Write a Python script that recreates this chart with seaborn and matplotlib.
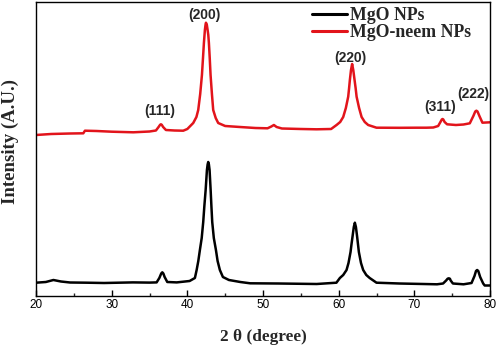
import matplotlib
matplotlib.use("Agg")
import matplotlib.pyplot as plt
from matplotlib.ticker import MultipleLocator
import seaborn as sns
import pandas as pd

# Values (arbitrary intensity units)
mgo_x = [20, 21.3, 22.3, 23.3, 24.5, 26.7, 29, 32.8, 35.0, 35.94, 36.3, 36.55, 36.69, 36.83,
         37.0, 37.35, 38.6, 40.3, 41.0, 41.23, 41.45, 41.66, 41.9, 42.1, 42.25, 42.42, 42.59,
         42.68, 42.76, 42.85, 42.94, 43.08, 43.18, 43.29, 43.5, 43.78, 44.0, 44.3, 44.7, 45.5,
         47, 48.3, 52, 57.1, 59.7, 60.16, 60.6, 61.04, 61.3, 61.57, 61.7, 61.83, 62.0, 62.14,
         62.28, 62.44, 62.55, 62.67, 62.95, 63.24, 63.65, 64.1, 65, 68, 71.2, 73.0, 73.8,
         74.2, 74.4, 74.55, 74.7, 74.8, 75.1, 76.5, 77.56, 77.95, 78.15, 78.3, 78.45, 78.7,
         79.1, 79.3, 80]
mgo_y = [13.3, 14, 16, 14.5, 13.5, 13.3, 13, 13.6, 13.4, 13.6, 18, 22.5, 23.7, 22.5,
         19, 14, 13.6, 15, 18, 26, 35, 46, 58, 74, 90, 106, 126,
         131.5, 134, 131.5, 126, 106, 90, 74, 58, 46, 35, 26, 19, 16,
         14, 12.7, 12.5, 12, 13.3, 18, 21, 26, 33, 44, 52, 59.3, 69, 73.3,
         69, 59.3, 52, 44, 33, 26, 21, 18, 13.3, 12.5, 12, 11.7, 12.5,
         15.5, 17.3, 17.7, 17.3, 15.5, 12.5, 11.7, 13, 20, 25, 26, 25, 19,
         12.5, 10.5, 10.5]

neem_x = [20, 22, 24.5, 26.25, 26.47, 28, 30, 32.86, 35, 35.85, 36.2, 36.4, 36.51, 36.62,
          36.8, 37.17, 38.3, 39.46, 40.0, 40.78, 41.2, 41.44, 41.7, 41.93, 42.07, 42.19, 42.32,
          42.4, 42.46, 42.57, 42.68, 42.77, 42.85, 42.96, 43.07, 43.25, 43.42, 43.75, 44.08,
          45, 46.95, 49, 50.6, 51.1, 51.44, 51.8, 52.5, 55, 57.08, 59, 59.72, 60.2, 60.6,
          60.95, 61.26, 61.38, 61.48, 61.63, 61.78, 61.93, 62.1, 62.24, 62.37, 62.7, 63.03,
          63.45, 63.9, 65, 68, 70.3, 71.6, 72.5, 73.15, 73.45, 73.63, 73.73, 73.83, 74.0,
          74.33, 75.5, 76.5, 77.33, 77.8, 78.05, 78.2, 78.35, 78.6, 79.0, 79.5, 80]
neem_y = [161, 162, 162.5, 162.7, 165.3, 165, 164.3, 163.7, 164.5, 165.5, 169, 171.2, 171.7,
          171.2, 169, 166, 165.5, 165.3, 167, 173, 179, 186, 202, 221, 238, 253, 266,
          271, 273.3, 271.5, 266, 261, 253, 238, 221, 202, 186, 178, 173,
          170, 169, 168, 167.7, 169.5, 171, 169, 167.5, 167, 166.7, 167, 171, 174, 179,
          188, 199.3, 208, 216, 226, 232, 226, 216, 208, 199.3, 188, 179,
          174, 171, 168.3, 168.2, 168.3, 168.3, 168.5, 170, 174, 176.5, 177, 176.5, 174,
          171.7, 171, 171.5, 172.7, 180, 184.5, 185.3, 184.5, 180, 173.3, 173.5, 173.7]

labels = ["MgO NPs", "MgO-neem NPs"]
peak_labels = ["(111)", "(200)", "(220)", "(311)", "(222)"]
peak_label_x = [36.34, 42.2, 61.6, 73.35, 77.85]
peak_label_y = [185, 281, 238, 189, 202]

df = pd.concat([
    pd.DataFrame({"two_theta": mgo_x, "intensity": mgo_y, "sample": labels[0]}),
    pd.DataFrame({"two_theta": neem_x, "intensity": neem_y, "sample": labels[1]}),
])

sns.set_style("ticks")
plt.rcParams["font.family"] = ["Liberation Sans", "DejaVu Sans"]

fig = plt.figure(figsize=(4.98, 3.48), dpi=100)
ax = fig.add_axes([36 / 498, 1 - 296 / 348, 454 / 498, 294 / 348])

sns.lineplot(data=df, x="two_theta", y="intensity", hue="sample", sort=False,
             palette={labels[0]: "black", labels[1]: "#e2141b"}, linewidth=1.8, ax=ax)
for ln in ax.get_lines():
    ln.set_solid_joinstyle("round")

ax.set_xlim(20, 80)
ax.set_ylim(0, 294)
ax.set_yticks([])
ax.xaxis.set_major_locator(MultipleLocator(10))
ax.xaxis.set_minor_locator(MultipleLocator(5))
ax.tick_params(axis="x", which="major", direction="in", length=4, width=1, labelsize=8.5,
               colors="black", pad=2.5)
ax.tick_params(axis="x", which="minor", direction="in", length=2.5, width=1)
for s in ax.spines.values():
    s.set_linewidth(1.0)
    s.set_color("black")

for t, x, y in zip(peak_labels, peak_label_x, peak_label_y):
    ax.text(x, y, t, ha="center", va="center", fontsize=10, fontweight="bold",
            family="Liberation Sans")

ax.set_xlabel("2 θ (degree)", fontsize=12.4, fontweight="bold", family="Liberation Serif")
ax.xaxis.set_label_coords(0.5, -(337 - 296) / 294, transform=ax.transAxes)
ax.xaxis.label.set_va("center")
ax.set_ylabel("Intensity (A.U.)", fontsize=13.5, fontweight="bold", family="Liberation Serif")
ax.yaxis.set_label_coords((10 - 36) / 454, (296 - 142) / 294, transform=ax.transAxes)
ax.yaxis.label.set_va("center")

leg = ax.legend(loc="upper left", bbox_to_anchor=((312 - 36) / 454, (296 - 7) / 294),
                frameon=False, borderaxespad=0, borderpad=0,
                prop={"family": "Liberation Serif", "weight": "bold", "size": 12.8},
                handlelength=1.95, handletextpad=0.2, labelspacing=0.02)
for line in leg.get_lines():
    line.set_linewidth(2.2)

fig.savefig("out.png", dpi=100)
